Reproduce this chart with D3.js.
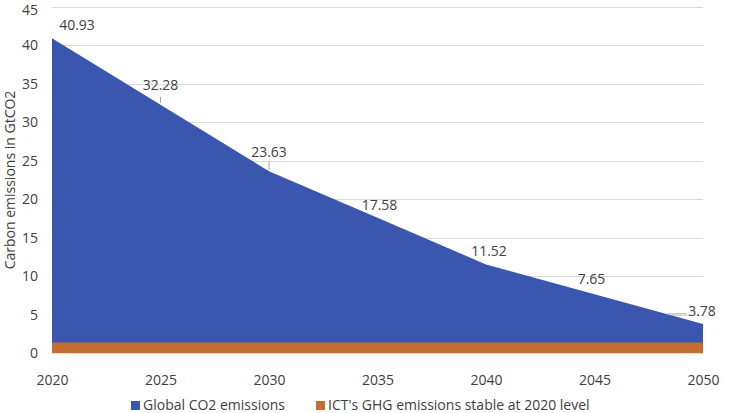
<!DOCTYPE html>
<html><head><meta charset="utf-8">
<script src="https://cdn.jsdelivr.net/npm/d3@7"></script>
<style>body{margin:0;background:#fff}svg text{font-family:"Open Sans","Noto Sans",sans-serif;fill:#404040}</style>
</head><body><svg id="c" width="736" height="413"></svg>
<script>
const years = [2020, 2025, 2030, 2035, 2040, 2045, 2050];
const globalCO2 = [40.93, 32.28, 23.63, 17.58, 11.52, 7.65, 3.78];
const ictGHG = [1.35, 1.35, 1.35, 1.35, 1.35, 1.35, 1.35];
const yTicks = [0, 5, 10, 15, 20, 25, 30, 35, 40, 45];
const seriesNames = ["Global CO2 emissions", "ICT's GHG emissions stable at 2020 level"];
const colors = ["#3A56AF", "#C46D31"];
const labelOffsets = [[25,-12],[0,-19],[0,-18],[2,-12],[3,-12],[-3,-14],[-1,-12]];

const svg = d3.select("#c");
const x = d3.scaleLinear().domain([2020, 2050]).range([52, 703]);
const y = d3.scaleLinear().domain([0, 45]).range([353, 7]);

svg.append("g").selectAll("line").data(yTicks.filter(d=>d>0)).join("line")
  .attr("x1", 52).attr("x2", 703).attr("y1", d=>Math.round(y(d))+0.5).attr("y2", d=>Math.round(y(d))+0.5)
  .attr("stroke", "#d9d9d9").attr("stroke-width", 1);

const data = years.map((yr,i)=>({yr, g: globalCO2[i], ict: ictGHG[i]}));
svg.append("path").datum(data)
  .attr("d", d3.area().x(d=>x(d.yr)).y0(y(0)).y1(d=>y(d.g)))
  .attr("fill", colors[0]);
svg.append("path").datum(data)
  .attr("d", d3.area().x(d=>x(d.yr)).y0(y(0)).y1(d=>y(d.ict)))
  .attr("fill", colors[1]);

svg.append("line").attr("x1",52).attr("x2",703).attr("y1",y(0)+0.5).attr("y2",y(0)+0.5)
  .attr("stroke","#d9dde8").attr("stroke-width",1);

const ya = svg.append("g").attr("transform","translate(38,0)")
  .call(d3.axisLeft(y).tickValues(yTicks).tickSize(0).tickPadding(0));
ya.select(".domain").remove();
ya.selectAll("text").attr("font-size", 14).attr("font-family",null).attr("fill","#404040")
  .attr("dy", d => d === 45 ? "0.55em" : "0.32em");

const xa = svg.append("g").attr("transform",`translate(0,${y(0)})`)
  .call(d3.axisBottom(x).tickValues(years).tickFormat(d3.format("d")).tickSize(0).tickPadding(22));
xa.select(".domain").remove();
xa.selectAll("text").attr("font-size", 14).attr("font-family",null).attr("fill","#404040");

svg.append("text").attr("transform","translate(11,180) rotate(-90)")
  .attr("text-anchor","middle").attr("dominant-baseline","middle")
  .attr("font-size",14).text("Carbon emissions in GtCO2");

data.forEach((d,i)=>{
  const px = x(d.yr), py = y(d.g);
  const [dx,dy] = labelOffsets[i];
  svg.append("text").attr("x", px+dx).attr("y", py+dy)
    .attr("text-anchor","middle").attr("dominant-baseline","middle")
    .attr("font-size",14).attr("fill","#262626").text(d.g.toFixed(2));
});
const leaders = [[1, 0, -8, 0, -2], [2, 0, -10, 0, -1]];
leaders.forEach(([i,x1,y1,x2,y2])=>{
  const px=x(years[i]), py=y(globalCO2[i]);
  svg.append("line").attr("x1",px+x1).attr("y1",py+y1).attr("x2",px+x2).attr("y2",py+y2)
    .attr("stroke","#a6a6a6").attr("stroke-width",1);
});
{
  const px=x(years[6]), py=y(globalCO2[6]);
  svg.append("polyline").attr("points",`${px-36},${py-10} ${px-16},${py-10}`)
    .attr("fill","none").attr("stroke","#a6a6a6").attr("stroke-width",1);
}

const legX = [131, 316];
seriesNames.forEach((n,i)=>{
  svg.append("rect").attr("x",legX[i]).attr("y",401).attr("width",9).attr("height",9).attr("fill",colors[i]);
  svg.append("text").attr("x",legX[i]+12).attr("y",406).attr("dominant-baseline","middle")
    .attr("font-size",14).text(n);
});
</script></body></html>
